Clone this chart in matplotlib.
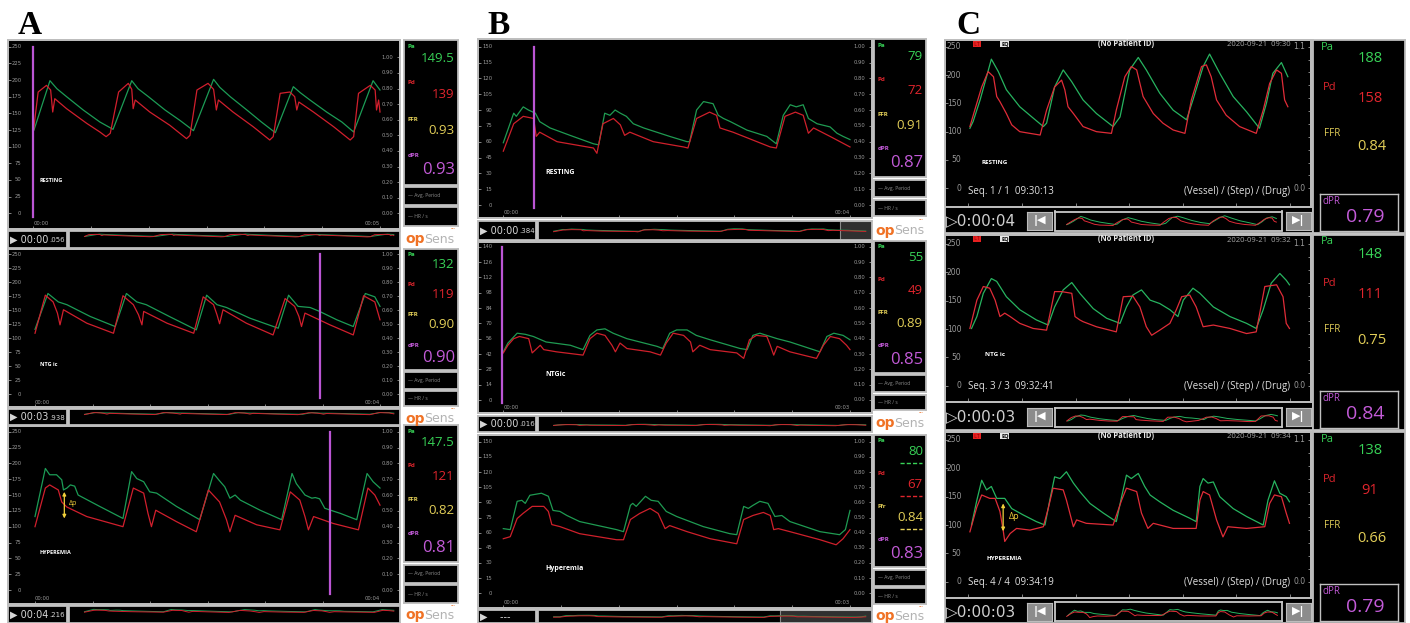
import numpy as np
import matplotlib
matplotlib.use('Agg')
import matplotlib.pyplot as plt

# ---------------- values ----------------
# time in s, pressure in mmHg

# column A (first system)
a1_t_pa = [0.01, 0.24, 0.34, 0.48, 0.72, 0.96, 1.15, 1.42, 1.51, 1.66, 1.90, 2.12, 2.31, 2.60, 2.69, 2.84,
           3.08, 3.29, 3.49, 3.75, 3.85, 3.99, 4.23, 4.45, 4.62, 4.90, 5.00]
a1_pa = [125, 199, 187, 175, 155, 137, 126, 199, 187, 175, 155, 139, 124, 201, 189, 175,
         155, 137, 121, 190, 181, 170, 152, 137, 122, 199, 185]
a1_t_pd = [0.00, 0.07, 0.19, 0.25, 0.28, 0.31, 0.48, 0.77, 0.96, 1.05, 1.11, 1.23, 1.37, 1.42, 1.44, 1.47,
           1.68, 1.97, 2.21, 2.26, 2.36, 2.52, 2.60, 2.64, 2.67, 2.88, 3.17, 3.41, 3.46, 3.56, 3.70, 3.77,
           3.80, 3.83, 4.04, 4.33, 4.57, 4.62, 4.69, 4.86, 4.93, 4.95, 4.98, 5.00]
a1_pd = [122, 182, 192, 185, 152, 172, 157, 135, 122, 115, 120, 182, 195, 186, 157, 170,
         152, 132, 112, 117, 185, 195, 186, 155, 170, 152, 130, 110, 115, 180, 182, 175,
         155, 167, 152, 130, 110, 115, 180, 192, 185, 155, 170, 152]

a2_t_pa = [0.00, 0.15, 0.27, 0.37, 0.64, 0.93, 1.06, 1.18, 1.29, 1.57, 1.87, 1.99, 2.11, 2.22, 2.49, 2.82,
           2.94, 3.05, 3.19, 3.30, 3.50, 3.69, 3.83, 3.94, 4.00]
a2_pa = [116, 180, 165, 160, 139, 121, 180, 165, 160, 138, 115, 177, 160, 155, 136, 118,
         177, 157, 155, 148, 133, 121, 180, 174, 157]
a2_t_pd = [0.00, 0.12, 0.21, 0.26, 0.29, 0.33, 0.60, 0.91, 1.02, 1.14, 1.20, 1.24, 1.26, 1.53, 1.84, 1.95,
           2.07, 2.11, 2.14, 2.18, 2.45, 2.76, 2.90, 3.01, 3.06, 3.09, 3.13, 3.42, 3.69, 3.81, 3.94, 4.00]
a2_pd = [109, 177, 165, 145, 124, 151, 127, 109, 176, 160, 142, 124, 148, 127, 109, 174,
         160, 142, 126, 151, 127, 106, 171, 157, 139, 121, 145, 124, 106, 176, 165, 133]

a3_t_pa = [0.00, 0.12, 0.17, 0.25, 0.31, 0.33, 0.37, 0.41, 0.46, 0.50, 0.75, 1.02, 1.12, 1.18, 1.26, 1.33,
           1.41, 1.64, 1.91, 2.07, 2.13, 2.20, 2.26, 2.32, 2.38, 2.61, 2.86, 2.98, 3.03, 3.13, 3.21, 3.25,
           3.30, 3.36, 3.54, 3.73, 3.85, 3.92, 4.00]
a3_pa = [116, 192, 182, 182, 174, 158, 161, 166, 164, 150, 132, 113, 187, 176, 171, 155,
         153, 132, 111, 184, 174, 163, 145, 150, 142, 126, 111, 184, 168, 150, 145, 146,
         144, 129, 121, 111, 184, 171, 161]
a3_t_pd = [0.00, 0.12, 0.17, 0.27, 0.31, 0.37, 0.60, 1.02, 1.14, 1.26, 1.31, 1.35, 1.40, 1.64, 1.87, 2.01,
           2.14, 2.22, 2.26, 2.32, 2.57, 2.84, 2.96, 3.07, 3.13, 3.17, 3.23, 3.46, 3.75, 3.86, 3.94, 4.00]
a3_pd = [100, 161, 166, 158, 139, 131, 116, 100, 161, 153, 121, 100, 126, 108, 92, 158,
         139, 111, 92, 118, 103, 95, 155, 142, 116, 95, 116, 105, 95, 161, 150, 134]

# column B (second system)
b1_t_pa = [0.00, 0.12, 0.15, 0.23, 0.29, 0.37, 0.42, 0.54, 0.77, 1.04, 1.10, 1.17, 1.23, 1.29, 1.35, 1.42,
           1.50, 1.62, 1.92, 2.12, 2.15, 2.23, 2.31, 2.42, 2.48, 2.54, 2.62, 2.81, 3.04, 3.15, 3.23, 3.31,
           3.38, 3.46, 3.52, 3.62, 3.77, 3.85, 3.92, 4.00]
b1_pa = [59, 87, 84, 93, 90, 87, 79, 73, 66, 58, 57, 87, 85, 90, 87, 84,
         77, 73, 65, 60, 60, 90, 98, 96, 85, 82, 79, 71, 65, 58, 85, 95,
         93, 95, 82, 77, 74, 68, 65, 62]
b1_t_pd = [0.00, 0.12, 0.23, 0.35, 0.38, 0.42, 0.62, 1.04, 1.08, 1.15, 1.27, 1.35, 1.40, 1.46, 1.73, 2.08,
           2.13, 2.23, 2.38, 2.46, 2.50, 2.65, 3.08, 3.15, 3.25, 3.37, 3.46, 3.52, 3.58, 3.77, 4.00]
b1_pd = [51, 77, 84, 82, 65, 69, 60, 54, 49, 77, 82, 76, 66, 69, 60, 55,
         54, 82, 88, 85, 73, 69, 55, 54, 84, 88, 85, 68, 73, 65, 55]

b2_t_pa = [0.00, 0.04, 0.12, 0.19, 0.26, 0.37, 0.58, 0.69, 0.75, 0.81, 0.88, 0.95, 1.07, 1.33, 1.38, 1.44,
           1.50, 1.59, 1.67, 1.79, 2.05, 2.11, 2.16, 2.22, 2.28, 2.37, 2.48, 2.74, 2.80, 2.86, 2.94, 3.00]
b2_pa = [44, 52, 61, 60, 58, 53, 50, 46, 59, 64, 65, 61, 56, 49, 47, 61,
         64, 64, 59, 55, 47, 46, 59, 61, 59, 56, 53, 44, 58, 61, 59, 55]
b2_t_pd = [0.00, 0.04, 0.09, 0.14, 0.22, 0.25, 0.29, 0.32, 0.35, 0.46, 0.69, 0.75, 0.81, 0.88, 0.94, 0.97,
           1.01, 1.07, 1.27, 1.36, 1.41, 1.47, 1.56, 1.62, 1.64, 1.70, 1.79, 2.02, 2.08, 2.13, 2.19, 2.28,
           2.31, 2.34, 2.37, 2.48, 2.71, 2.77, 2.83, 2.91, 2.97, 3.00]
b2_pd = [43, 50, 56, 58, 56, 43, 47, 50, 46, 44, 41, 56, 61, 59, 50, 44,
         52, 47, 44, 41, 52, 61, 59, 53, 44, 50, 46, 43, 38, 55, 59, 58,
         50, 41, 49, 44, 38, 50, 58, 56, 50, 46]

b3_t_pa = [0.00, 0.06, 0.12, 0.16, 0.19, 0.23, 0.33, 0.39, 0.43, 0.49, 0.55, 0.66, 0.78, 0.98, 1.04, 1.10,
           1.12, 1.15, 1.23, 1.28, 1.34, 1.41, 1.50, 1.73, 1.96, 2.02, 2.08, 2.12, 2.16, 2.22, 2.29, 2.35,
           2.41, 2.48, 2.74, 2.91, 2.96, 3.00]
b3_pa = [64, 63, 91, 92, 89, 97, 99, 96, 82, 81, 77, 71, 68, 63, 61, 87,
         89, 86, 96, 92, 91, 81, 76, 66, 59, 58, 86, 84, 87, 91, 89, 76,
         77, 71, 61, 58, 63, 82]
b3_t_pd = [0.00, 0.06, 0.12, 0.17, 0.25, 0.35, 0.39, 0.42, 0.49, 0.66, 0.98, 1.04, 1.10, 1.18, 1.27, 1.34,
           1.40, 1.44, 1.59, 1.79, 2.02, 2.08, 2.16, 2.25, 2.31, 2.34, 2.38, 2.48, 2.74, 2.88, 2.94, 3.00]
b3_pd = [54, 56, 74, 79, 86, 86, 81, 68, 66, 59, 53, 53, 73, 79, 84, 79,
         64, 67, 61, 54, 49, 73, 77, 80, 77, 63, 64, 61, 53, 48, 54, 63]

# column C (third system)
c1_t_pa = [0.03, 0.09, 0.22, 0.34, 0.43, 0.56, 0.71, 0.96, 1.21, 1.40, 1.46, 1.61, 1.77, 1.93, 2.14, 2.39,
           2.70, 2.83, 3.01, 3.17, 3.32, 3.57, 3.82, 4.07, 4.19, 4.38, 4.50, 4.69, 4.94, 5.19, 5.43, 5.56,
           5.68, 5.84, 5.96]
c1_pa = [106, 118, 156, 197, 228, 206, 174, 144, 124, 109, 115, 179, 209, 188, 156, 132,
         109, 126, 209, 231, 209, 168, 138, 121, 156, 215, 237, 203, 162, 135, 106, 150,
         203, 222, 197]
c1_t_pd = [0.03, 0.12, 0.25, 0.37, 0.47, 0.53, 0.59, 0.71, 0.81, 0.96, 1.15, 1.34, 1.46, 1.61, 1.74, 1.80,
           1.86, 1.96, 2.14, 2.39, 2.67, 2.76, 2.92, 3.04, 3.14, 3.26, 3.45, 3.63, 3.82, 4.04, 4.16, 4.35,
           4.44, 4.53, 4.63, 4.81, 5.06, 5.37, 5.50, 5.62, 5.75, 5.84, 5.90, 5.96]
c1_pd = [109, 138, 179, 206, 197, 162, 153, 132, 112, 100, 97, 94, 138, 179, 191, 174,
         144, 132, 109, 100, 97, 138, 197, 215, 209, 162, 132, 115, 103, 97, 156, 215,
         218, 197, 156, 129, 109, 97, 138, 185, 209, 203, 156, 144]

c2_t_pa = [0.06, 0.16, 0.28, 0.43, 0.53, 0.71, 0.96, 1.27, 1.49, 1.61, 1.77, 1.93, 2.08, 2.33, 2.58, 2.83,
           2.95, 3.07, 3.23, 3.39, 3.57, 3.76, 3.91, 4.01, 4.19, 4.32, 4.57, 4.88, 5.19, 5.37, 5.50, 5.65,
           5.81, 5.93, 5.99]
c2_pa = [101, 122, 163, 189, 184, 157, 134, 116, 107, 139, 169, 182, 163, 136, 119, 110,
         139, 160, 169, 151, 145, 134, 122, 151, 172, 163, 139, 122, 110, 101, 134, 181,
         198, 186, 178]
c2_t_pd = [0.03, 0.16, 0.28, 0.40, 0.50, 0.59, 0.68, 0.78, 0.96, 1.21, 1.46, 1.61, 1.74, 1.93, 1.99, 2.08,
           2.14, 2.39, 2.76, 2.89, 3.07, 3.20, 3.32, 3.42, 3.57, 3.76, 3.88, 3.98, 4.13, 4.25, 4.38, 4.57,
           4.88, 5.19, 5.37, 5.53, 5.75, 5.87, 5.93, 5.99]
c2_pd = [101, 151, 175, 172, 151, 122, 128, 122, 110, 101, 98, 166, 166, 163, 122, 116,
         113, 104, 95, 157, 158, 139, 104, 89, 98, 110, 134, 157, 160, 139, 104, 107,
         101, 92, 95, 175, 178, 157, 110, 101]

c3_t_pa = [0.06, 0.16, 0.25, 0.34, 0.43, 0.53, 0.68, 0.81, 1.02, 1.27, 1.43, 1.52, 1.61, 1.71, 1.83, 1.96,
           2.08, 2.27, 2.52, 2.76, 2.86, 2.95, 3.04, 3.17, 3.29, 3.39, 3.57, 3.82, 4.13, 4.25, 4.32, 4.38,
           4.47, 4.57, 4.69, 4.94, 5.19, 5.50, 5.59, 5.71, 5.81, 5.93, 5.99]
c3_pa = [100, 144, 179, 162, 168, 147, 147, 129, 118, 106, 100, 144, 185, 182, 194, 174,
         159, 138, 121, 106, 150, 188, 182, 191, 168, 153, 141, 126, 112, 106, 168, 182,
         174, 176, 150, 129, 115, 100, 144, 178, 156, 150, 141]
c3_t_pd = [0.03, 0.16, 0.25, 0.40, 0.50, 0.59, 0.65, 0.68, 0.78, 0.90, 1.15, 1.40, 1.49, 1.58, 1.77, 1.83,
           1.96, 2.02, 2.20, 2.70, 2.86, 2.95, 3.14, 3.23, 3.35, 3.45, 3.82, 4.25, 4.32, 4.38, 4.50, 4.63,
           4.75, 4.84, 5.19, 5.53, 5.62, 5.71, 5.84, 5.93, 5.99]
c3_pd = [88, 132, 153, 147, 147, 124, 91, 71, 85, 94, 91, 97, 129, 165, 162, 144,
         97, 109, 103, 100, 144, 165, 159, 121, 94, 103, 94, 94, 144, 159, 153, 109,
         79, 97, 94, 97, 138, 153, 150, 121, 103]

# readouts
a_pa = ['149.5', '132', '147.5']
a_pd = ['139', '119', '121']
a_ffr = ['0.93', '0.90', '0.82']
a_dpr = ['0.93', '0.90', '0.81']
b_pa = ['79', '55', '80']
b_pd = ['72', '49', '67']
b_ffr = ['0.91', '0.89', '0.84']
b_dpr = ['0.87', '0.85', '0.83']
c_pa = ['188', '148', '138']
c_pd = ['158', '111', '91']
c_ffr = ['0.84', '0.75', '0.66']
c_dpr = ['0.79', '0.84', '0.79']

a_state = ['RESTING', 'NTG ic', 'HYPEREMIA']
b_state = ['RESTING', 'NTGic', 'Hyperemia']
c_state = ['RESTING', 'NTG ic', 'HYPEREMIA']
a_timer = ['00:00.056', '00:03.938', '00:04.216']
b_timer = ['00:00.384', '00:00.016', '---']
c_timer = ['0:00:04', '0:00:03', '0:00:03']
a_end = [5, 4, 4]
b_end = [4, 3, 3]
c_seq = ['Seq. 1 / 1  09:30:13', 'Seq. 3 / 3  09:32:41', 'Seq. 4 / 4  09:34:19']
c_date = ['2020-09-21  09:30', '2020-09-21  09:32', '2020-09-21  09:34']
a_cursor = [0.00, 3.30, 3.42]
b_cursor = [0.35, -0.01, None]
a_dp = (0.34, 155, 113)
c_dp = (0.65, 138, 89)

a_yticks = list(range(0, 251, 25))
b_yticks = [list(range(0, 151, 15)), list(range(0, 141, 14)), list(range(0, 151, 15))]
c_yticks = list(range(0, 251, 50))
ab_rticks = [round(0.1 * i, 2) for i in range(11)]
c_rticks = [round(0.1 * i, 1) for i in range(12)]

# ---------------- drawing ----------------
W, H = 1410, 623
fig = plt.figure(figsize=(W / 100, H / 100), dpi=100)
fig.patch.set_facecolor('white')
plt.rcParams['font.family'] = ['Open Sans', 'DejaVu Sans']

EDGE = '#bdbdbd'
TICK = '#9a9a9a'
TXT = '#d6d6d6'
MAG = '#bb55d4'
DP_C = '#f0cf3a'
PA_T, PD_T, FFR_T, DPR_T = '#38d257', '#e0252d', '#e3cf58', '#c35bd8'


def px_axes(x0, y0, x1, y1, fc='black', ec=EDGE, lw=1.3):
    ax = fig.add_axes([x0 / W, 1 - y1 / H, (x1 - x0) / W, (y1 - y0) / H])
    ax.set_facecolor(fc)
    ax.set_xticks([])
    ax.set_yticks([])
    for s in ax.spines.values():
        s.set_color(ec)
        s.set_linewidth(lw)
    return ax


def ftext(x, y, s, **kw):
    return fig.text(x / W, 1 - y / H, s, **kw)


def span(p0, p1, pa, va, pb, vb):
    # limits so that pixel pa shows va and pixel pb shows vb
    k = (vb - va) / (pb - pa)
    return va + (p0 - pa) * k, va + (p1 - pa) * k


def scope(rect, xref, yref, rref, t_pa, pa, t_pd, pd, yticks, rticks, rlabels,
          fs, lab_x, rlab_x, pa_c, pd_c, xticks):
    x0, y0, x1, y1 = rect
    ax = px_axes(*rect)
    ax.set_xlim(span(x0, x1, *xref))
    ax.set_ylim(span(y1, y0, *yref))
    ax.plot(t_pa, pa, color=pa_c, lw=0.9)
    ax.plot(t_pd, pd, color=pd_c, lw=0.9)
    ax.set_yticks(yticks)
    ax.set_yticklabels([])
    ax.set_xticks(xticks)
    ax.set_xticklabels([])
    ax.tick_params(axis='both', direction='in', length=2.5, color=TICK, width=0.6)
    yt = ax.get_yaxis_transform()
    for v in yticks:
        ax.text(lab_x, v, f'{v}', transform=yt, ha='right', va='center',
                fontsize=fs, color=TICK, family='DejaVu Sans')
    tw = ax.twinx()
    tw.set_ylim(span(y1, y0, *rref))
    tw.set_yticks(rticks)
    tw.set_yticklabels([])
    tw.tick_params(axis='y', direction='in', length=2.5, color=TICK, width=0.6)
    for s in tw.spines.values():
        s.set_color(EDGE)
        s.set_linewidth(1.3)
    rt = tw.get_yaxis_transform()
    for v, lab in zip(rticks, rlabels):
        if lab:
            tw.text(rlab_x, v, lab, transform=rt, ha='right', va='center',
                    fontsize=fs, color=TICK, family='DejaVu Sans')
    return ax


def readout(rect, vals, fs_val, fs_dpr, ffr_name='FFR', dashed=False):
    ax = px_axes(*rect)
    names = ['Pa', 'Pd', ffr_name, 'dPR']
    cols = [PA_T, PD_T, FFR_T, DPR_T]
    lab_y = [0.955, 0.705, 0.455, 0.205]
    val_y = [0.875, 0.625, 0.375, 0.10]
    for i in range(4):
        ax.text(0.07, lab_y[i], names[i], transform=ax.transAxes, color=cols[i],
                fontsize=4.5, fontweight='bold', ha='left', va='center')
        ax.text(0.94, val_y[i], vals[i], transform=ax.transAxes, color=cols[i],
                fontsize=fs_dpr if i == 3 else fs_val, ha='right', va='center')
        if dashed and i < 3:
            ax.plot([0.5, 0.92], [val_y[i] - 0.085] * 2, transform=ax.transAxes,
                    color=cols[i], lw=1.0, ls=(0, (3, 1.5)))


def side_boxes(x0, x1, avg, second, logo):
    a = px_axes(x0, avg[0], x1, avg[1])
    a.text(0.08, 0.5, '— Avg. Period', transform=a.transAxes, color='#8c8c8c',
           fontsize=3.6, va='center')
    b = px_axes(x0, second[0], x1, second[1])
    b.text(0.08, 0.5, '— HR / s', transform=b.transAxes, color='#8c8c8c',
           fontsize=3.6, va='center')
    yc = (logo[0] + logo[1]) / 2 + 1.5
    ftext(x0 + 1, yc, 'op', color='#f07225', fontsize=10, fontweight='bold',
          va='center', ha='left', family='DejaVu Sans')
    ftext(x0 + 20, yc, 'Sens', color='#b3b3b3', fontsize=9, va='center',
          ha='left', family='DejaVu Sans')
    ftext(x1 - 5, logo[0] + 1, '•••', color='#f07225', fontsize=3.2, ha='center', va='center')


def mini(rect, t_pa, pa, t_pd, pd, tmax, ylim, pa_c, pd_c, ec=EDGE, shade=None):
    ax = px_axes(*rect, ec=ec)
    ax.plot(t_pa, pa, color=pa_c, lw=0.7)
    ax.plot(t_pd, pd, color=pd_c, lw=0.7)
    ax.set_xlim(-0.05 * tmax, tmax * 1.02)
    ax.set_ylim(ylim)
    if shade is not None:
        ax.axvspan(shade * tmax * 1.02, tmax * 1.02, color='#303030', ec='#8a8a8a', lw=0.8)
    return ax


def timer(x0, y0, x1, y1, s):
    px_axes(x0, y0, x1, y1)
    yc = (y0 + y1) / 2
    if '.' in s:
        main, dec = s.split('.')
        ftext(x0 + 2, yc, '▶ ' + main, color=TXT, fontsize=7, va='center', family='DejaVu Sans')
        ftext(x0 + 41, yc + 0.5, '.' + dec, color=TXT, fontsize=5, va='center', family='DejaVu Sans')
    else:
        ftext(x0 + 2, yc, '▶    ' + s, color=TXT, fontsize=7, va='center', family='DejaVu Sans')


# panel letters
for lx, letter in zip([18, 487, 956], ['A', 'B', 'C']):
    ftext(lx, 25, letter, fontsize=24, fontweight='bold', family='Liberation Serif',
          va='center', ha='left', color='black')

# ---- column A ----
a_rows = [(40, 229), (249, 407), (426, 604)]
a_strips = [(231, 248), (409, 425), (606, 623)]
a_vbox = [(40, 185), (249, 370), (425, 562)]
a_avg = [(187, 205), (372, 389), (565, 583)]
a_sec = [(207, 226), (391, 406), (585, 603)]
a_logo = [(228, 248), (408, 426), (605, 623)]
a_xref = [(33.3, 0, 380, 5), (35, 0, 380, 4), (35, 0, 380, 4)]
a_yref = [(46.7, 250, 213.3, 0), (254.3, 250, 394.3, 0), (431.7, 250, 590, 0)]
a_rref = [(57.3, 1, 213.3, 0), (254.3, 1, 394.3, 0), (431.7, 1, 590, 0)]
a_data = [(a1_t_pa, a1_pa, a1_t_pd, a1_pd), (a2_t_pa, a2_pa, a2_t_pd, a2_pd),
          (a3_t_pa, a3_pa, a3_t_pd, a3_pd)]
a_state_y = [180, 365, 553]
AG, AR = '#1c9c56', '#d11f2d'
rlab_ab = [f'{v:.2f}' for v in ab_rticks]

for i in range(3):
    top, bot = a_rows[i]
    tp, p, td, d = a_data[i]
    ax = scope((8, top, 400, bot), a_xref[i], a_yref[i], a_rref[i], tp, p, td, d,
               a_yticks, ab_rticks, rlab_ab, 3.8, 0.034, 0.982, AG, AR,
               np.linspace(0, a_end[i], 7))
    xt = ax.get_xaxis_transform()
    ax.text(0, 0.015, '00:00', transform=xt, fontsize=3.8, color=TICK, ha='left',
            va='bottom', family='DejaVu Sans')
    ax.text(a_end[i], 0.015, f'00:0{a_end[i]}', transform=xt, fontsize=3.8, color=TICK,
            ha='right', va='bottom', family='DejaVu Sans')
    ax.plot([a_cursor[i]] * 2, [250, -6], color=MAG, lw=1.6)
    ftext(40, a_state_y[i], a_state[i], color='white', fontsize=4, fontweight='bold', va='center')
    readout((404, a_vbox[i][0], 458, a_vbox[i][1]),
            [a_pa[i], a_pd[i], a_ffr[i], a_dpr[i]], 9.5, 12)
    side_boxes(404, 458, a_avg[i], a_sec[i], a_logo[i])
    s0, s1 = a_strips[i]
    timer(8, s0, 67, s1, a_timer[i])
    mini((69, s0, 400, s1), tp, p, td, d, a_end[i], (-250, 300), AG, AR)
    if i == 2:
        t, hi, lo = a_dp
        ax.annotate('', xy=(t, lo), xytext=(t, hi),
                    arrowprops=dict(arrowstyle='<|-|>', color=DP_C, lw=0.9,
                                    mutation_scale=5, shrinkA=0, shrinkB=0))
        ax.text(t + 0.05, (hi + lo) / 2 + 2, 'Δp', color=DP_C, fontsize=5, va='center')

# ---- column B ----
b_rows = [(39, 218), (242, 413), (435, 608)]
b_strips = [(221, 240), (416, 432), (610, 623)]
b_vbox = [(39, 177), (241, 373), (435, 567)]
b_avg = [(180, 197), (375, 392), (570, 586)]
b_sec = [(200, 216), (395, 410), (588, 604)]
b_logo = [(219, 240), (412, 432), (606, 623)]
b_xref = [(503.3, 0, 850, 4), (503.3, 0, 850, 3), (503.3, 0, 850, 3)]
b_yref = [(46.7, 150, 205, 0), (246.7, 140, 400, 0), (441.7, 150, 593.3, 0)]
b_rref = [(46.7, 1, 205, 0), (246.7, 1, 400, 0), (441.7, 1, 593.3, 0)]
b_data = [(b1_t_pa, b1_pa, b1_t_pd, b1_pd), (b2_t_pa, b2_pa, b2_t_pd, b2_pd),
          (b3_t_pa, b3_pa, b3_t_pd, b3_pd)]
b_state_y = [173, 374, 568]
b_top = [150, 140, 150]
b_shade = [0.9, None, 0.71]
BG, BR = '#1f9b52', '#cf202b'

for i in range(3):
    top, bot = b_rows[i]
    tp, p, td, d = b_data[i]
    ax = scope((478, top, 872, bot), b_xref[i], b_yref[i], b_rref[i], tp, p, td, d,
               b_yticks[i], ab_rticks, rlab_ab, 3.8, 0.036, 0.982, BG, BR,
               np.linspace(0, b_end[i], 7))
    xt = ax.get_xaxis_transform()
    ax.text(0, 0.015, '00:00', transform=xt, fontsize=3.8, color=TICK, ha='left',
            va='bottom', family='DejaVu Sans')
    ax.text(b_end[i], 0.015, f'00:0{b_end[i]}', transform=xt, fontsize=3.8, color=TICK,
            ha='right', va='bottom', family='DejaVu Sans')
    if b_cursor[i] is not None:
        ax.plot([b_cursor[i]] * 2, [b_top[i], -3], color=MAG, lw=1.6)
    ftext(545, b_state_y[i], b_state[i], color='white', fontsize=5, fontweight='bold', va='center')
    readout((874, b_vbox[i][0], 926, b_vbox[i][1]),
            [b_pa[i], b_pd[i], b_ffr[i], b_dpr[i]], 9.5, 12,
            ffr_name='Ffr' if i == 2 else 'FFR', dashed=(i == 2))
    side_boxes(874, 926, b_avg[i], b_sec[i], b_logo[i])
    s0, s1 = b_strips[i]
    timer(478, s0, 536, s1, b_timer[i])
    mini((538, s0, 872, s1), tp, p, td, d, b_end[i], (-80, 220), BG, BR, shade=b_shade[i])

# ---- column C ----
c_rows = [(40, 207), (235, 402), (432, 598)]
c_strips = [(209, 233), (404, 430), (600, 623)]
c_yref = [(46.7, 250, 188.3, 0), (244, 250, 385.7, 0), (440, 250, 581.7, 0)]
c_xref = (968.3, 0, 1290, 6)
c_data = [(c1_t_pa, c1_pa, c1_t_pd, c1_pd), (c2_t_pa, c2_pa, c2_t_pd, c2_pd),
          (c3_t_pa, c3_pa, c3_t_pd, c3_pd)]
c_state_xy = [(982, 163), (985, 355), (987, 559)]
CG, CR = '#27b460', '#e02c38'
rlab_c = ['0.0'] + [''] * 10 + ['1.1']

for i in range(3):
    top, bot = c_rows[i]
    s0, s1 = c_strips[i]
    px_axes(945, top, 1313, s1)
    tp, p, td, d = c_data[i]
    yr = c_yref[i]
    ax = scope((945, top, 1311, bot), c_xref, yr, (yr[0], 1.1, yr[2], 0), tp, p, td, d,
               c_yticks, c_rticks, rlab_c, 5.5, 0.045, 0.985, CG, CR, list(range(7)))
    ax.tick_params(axis='x', length=3)
    ftext(973, top + 4, ' LT ', color='#7a0000', fontsize=3.5, va='center',
          bbox=dict(boxstyle='square,pad=0.1', fc='#e82020', ec='none'))
    ftext(1001, top + 4, 'EQ', color='black', fontsize=4, va='center', fontweight='bold',
          bbox=dict(boxstyle='square,pad=0.1', fc='#e8e8e8', ec='none'))
    ftext(1126, top + 3.5, '(No Patient ID)', color='#e6e6e6', fontsize=5.5,
          fontweight='bold', ha='center', va='center')
    ftext(1291, top + 5, c_date[i], color='#a8a8a8', fontsize=5.5, ha='right', va='center')
    ftext(968, bot - 15, c_seq[i], color='#e0e0e0', fontsize=7, va='center')
    ftext(1290, bot - 15, '(Vessel) / (Step) / (Drug)', color='#e0e0e0', fontsize=7,
          ha='right', va='center')
    ftext(*c_state_xy[i], c_state[i], color='white', fontsize=4.5, fontweight='bold', va='center')
    if i == 2:
        t, hi, lo = c_dp
        ax.annotate('', xy=(t, lo), xytext=(t, hi),
                    arrowprops=dict(arrowstyle='<|-|>', color=DP_C, lw=0.9,
                                    mutation_scale=5, shrinkA=0, shrinkB=0))
        ax.text(t + 0.1, (hi + lo) / 2 + 2, 'Δp', color=DP_C, fontsize=6.5, va='center')

    # strip: timer, buttons, overview
    yc = (s0 + s1) / 2
    ftext(946, yc, '▷' + c_timer[i], color='#cfcfcf', fontsize=11, va='center',
          family='DejaVu Sans')
    bl = px_axes(1027, yc - 9, 1052, yc + 9, fc='#8c8c8c', ec='#bdbdbd', lw=0.8)
    bl.text(0.5, 0.5, '|◀', transform=bl.transAxes, color='white', fontsize=8,
            fontweight='bold', ha='center', va='center', family='DejaVu Sans')
    mini((1055, yc - 9.5, 1282, yc + 9.5), tp, p, td, d, 6, (20, 300), CG, CR, ec='#c8c8c8')
    br = px_axes(1286, yc - 9, 1311, yc + 9, fc='#8c8c8c', ec='#bdbdbd', lw=0.8)
    br.text(0.5, 0.5, '▶|', transform=br.transAxes, color='white', fontsize=8,
            fontweight='bold', ha='center', va='center', family='DejaVu Sans')

    # side readout
    sd = px_axes(1313, top, 1405, s1)
    h = s1 - top
    sd.text(0.09, 1 - 7 / h, 'Pa', transform=sd.transAxes, color=PA_T, fontsize=8, va='center')
    sd.text(0.62, 1 - 19 / h, c_pa[i], transform=sd.transAxes, color=PA_T, fontsize=10.5,
            ha='center', va='center')
    sd.text(0.11, 1 - 48 / h, 'Pd', transform=sd.transAxes, color=PD_T, fontsize=8, va='center')
    sd.text(0.62, 1 - 59 / h, c_pd[i], transform=sd.transAxes, color=PD_T, fontsize=10.5,
            ha='center', va='center')
    sd.text(0.12, 1 - 94 / h, 'FFR', transform=sd.transAxes, color=FFR_T, fontsize=7, va='center')
    sd.text(0.64, 1 - 106 / h, c_ffr[i], transform=sd.transAxes, color=FFR_T, fontsize=10.5,
            ha='center', va='center')
    db = px_axes(1320, s1 - 39, 1398, s1 - 2, ec='#c0c0c0', lw=1.0)
    db.text(0.03, 0.8, 'dPR', transform=db.transAxes, color=DPR_T, fontsize=7, va='center')
    db.text(0.58, 0.38, c_dpr[i], transform=db.transAxes, color=DPR_T, fontsize=14,
            ha='center', va='center')

fig.savefig('out.png', dpi=100, facecolor='white')
